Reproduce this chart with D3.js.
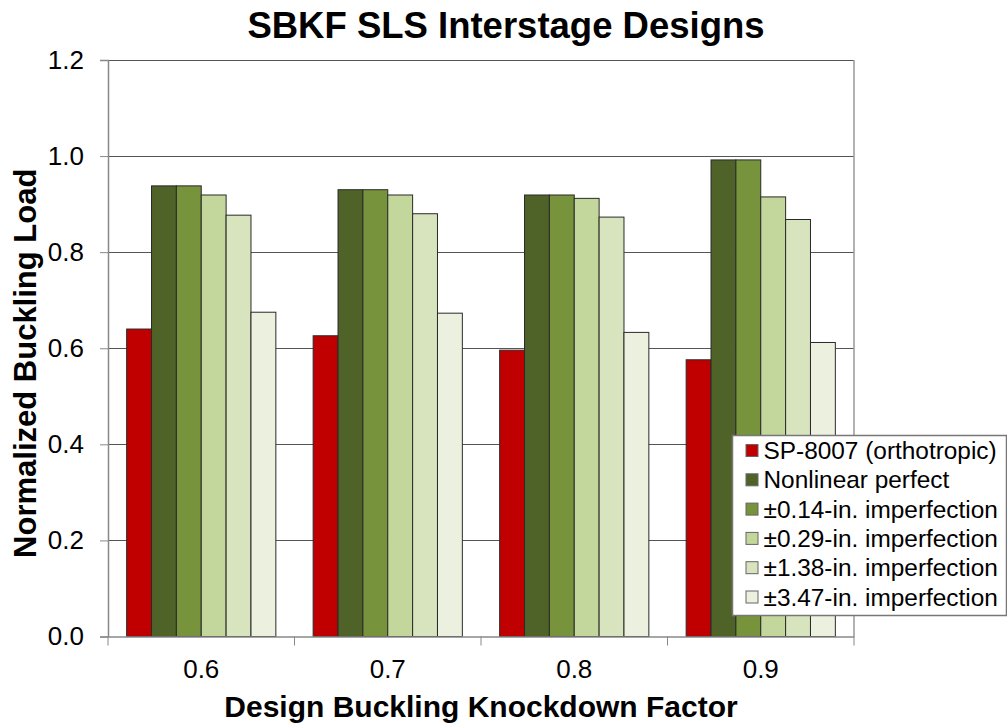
<!DOCTYPE html>
<html>
<head>
<meta charset="utf-8">
<script src="https://cdn.jsdelivr.net/npm/d3@7"></script>
<style>
  body { margin: 0; background: #fff; }
  text { font-family: "Liberation Sans", Arial, sans-serif; }
</style>
</head>
<body>
<div id="chart"></div>
<script>
// chart data
var categories = ["0.6", "0.7", "0.8", "0.9"];
var seriesNames = [
  "SP-8007 (orthotropic)",
  "Nonlinear perfect",
  "\u00b10.14-in. imperfection",
  "\u00b10.29-in. imperfection",
  "\u00b11.38-in. imperfection",
  "\u00b13.47-in. imperfection"
];
var sp8007     = [0.640, 0.626, 0.596, 0.576];
var nlPerfect  = [0.938, 0.930, 0.919, 0.992];
var imp014     = [0.938, 0.930, 0.919, 0.992];
var imp029     = [0.919, 0.919, 0.912, 0.915];
var imp138     = [0.877, 0.880, 0.873, 0.868];
var imp347     = [0.675, 0.673, 0.633, 0.612];
var yTicks = [0, 0.2, 0.4, 0.6, 0.8, 1.0, 1.2];

var colors = ["#C00000", "#4F6228", "#77933C", "#C3D69B", "#D7E4BD", "#EBF1DE"];
var allSeries = [sp8007, nlPerfect, imp014, imp029, imp138, imp347];

var W = 1007, H = 726;
var pLeft = 108, pRight = 854, pTop = 60, pBottom = 636.5;

var svg = d3.select("#chart").append("svg")
  .attr("width", W)
  .attr("height", H);

var x = d3.scaleBand().domain(categories).range([pLeft, pRight]);
var bw = x.bandwidth();
var xs = d3.scaleBand().domain(d3.range(seriesNames.length)).range([bw * 0.1, bw * 0.9]);
var y = d3.scaleLinear().domain([0, 1.2]).range([pBottom, pTop]);

// gridlines
svg.append("g")
  .selectAll("line")
  .data(yTicks.slice(1))
  .enter().append("line")
    .attr("x1", pLeft).attr("x2", pRight)
    .attr("y1", function(d) { return Math.round(y(d)) + 0.5; })
    .attr("y2", function(d) { return Math.round(y(d)) + 0.5; })
    .attr("stroke", "#555")
    .attr("stroke-width", 1);

// right border
svg.append("line")
  .attr("x1", pRight).attr("x2", pRight)
  .attr("y1", pTop).attr("y2", pBottom)
  .attr("stroke", "#999").attr("stroke-width", 1.5);

// bars
var groups = svg.append("g").selectAll("g")
  .data(categories)
  .enter().append("g")
    .attr("transform", function(d) { return "translate(" + x(d) + ",0)"; });

groups.selectAll("rect")
  .data(function(d, i) { return allSeries.map(function(s, k) { return {k: k, v: s[i]}; }); })
  .enter().append("rect")
    .attr("x", function(d) { return xs(d.k); })
    .attr("y", function(d) { return y(d.v); })
    .attr("width", xs.bandwidth())
    .attr("height", function(d) { return pBottom - y(d.v); })
    .attr("fill", function(d) { return colors[d.k]; })
    .attr("stroke", "#2a2a2a")
    .attr("stroke-width", 1);

// y axis
var yAxis = d3.axisLeft(y).tickValues(yTicks).tickFormat(d3.format(".1f")).tickSize(8).tickPadding(16);
var gy = svg.append("g").attr("transform", "translate(" + pLeft + ",0)").call(yAxis);
gy.select(".domain").attr("stroke", "#888").attr("stroke-width", 1.5);
gy.selectAll(".tick line").attr("stroke", "#888");
gy.selectAll(".tick text").attr("font-size", 26).attr("fill", "#000")
  .attr("font-family", "'Liberation Sans', Arial, sans-serif");

// x axis, ticks sit between the categories
var xAxis = d3.axisBottom(x).tickSize(0).tickPadding(23);
var gx = svg.append("g").attr("transform", "translate(0," + pBottom + ")").call(xAxis);
gx.select(".domain").attr("stroke", "#888").attr("stroke-width", 1.5);
gx.selectAll(".tick text").attr("font-size", 26).attr("fill", "#000")
  .attr("font-family", "'Liberation Sans', Arial, sans-serif");
gx.selectAll(".sep")
  .data(categories.concat(["end"]))
  .enter().append("line")
    .attr("class", "sep")
    .attr("x1", function(d, i) { return pLeft + i * bw; })
    .attr("x2", function(d, i) { return pLeft + i * bw; })
    .attr("y1", 0).attr("y2", 9)
    .attr("stroke", "#888");

// titles
svg.append("text")
  .attr("x", 506).attr("y", 38)
  .attr("text-anchor", "middle")
  .attr("font-size", 36.5).attr("font-weight", "bold")
  .text("SBKF SLS Interstage Designs");

svg.append("text")
  .attr("x", (pLeft + pRight) / 2).attr("y", 717)
  .attr("text-anchor", "middle")
  .attr("font-size", 30).attr("font-weight", "bold")
  .text("Design Buckling Knockdown Factor");

svg.append("text")
  .attr("transform", "translate(36," + ((pTop + pBottom) / 2 + 15) + ") rotate(-90)")
  .attr("text-anchor", "middle")
  .attr("font-size", 31).attr("font-weight", "bold")
  .text("Normalized Buckling Load");

// legend
var lg = svg.append("g").attr("transform", "translate(732.5,435.5)");
lg.append("rect")
  .attr("width", 274).attr("height", 180)
  .attr("fill", "#fff").attr("stroke", "#777").attr("stroke-width", 1.5);

var items = lg.selectAll(".item")
  .data(seriesNames)
  .enter().append("g")
    .attr("class", "item")
    .attr("transform", function(d, i) { return "translate(0," + (15 + i * 29.3) + ")"; });

items.append("rect")
  .attr("x", 13.5).attr("y", -6)
  .attr("width", 12).attr("height", 12)
  .attr("fill", function(d, i) { return colors[i]; })
  .attr("stroke", "#666").attr("stroke-width", 1);

items.append("text")
  .attr("x", 31).attr("y", 8.5)
  .attr("font-size", 24.4)
  .text(function(d) { return d; });
</script>
</body>
</html>
